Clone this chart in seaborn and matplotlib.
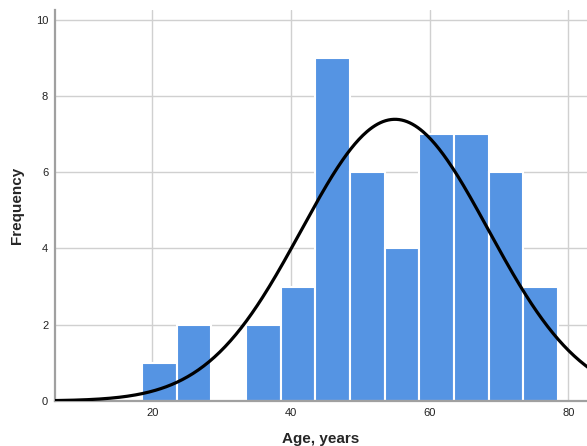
import numpy as np
import pandas as pd
import matplotlib
matplotlib.use("Agg")
import matplotlib.pyplot as plt
import seaborn as sns

# histogram bins (age, years) and counts
bin_edges = [18.5, 23.5, 28.5, 33.5, 38.5, 43.5, 48.5, 53.5, 58.5, 63.5, 68.5, 73.5, 78.5]
counts = [1, 2, 0, 2, 3, 9, 6, 4, 7, 7, 6, 3]

# fitted normal curve parameters
mean_age = 55.0
sd_age = 13.5

sns.set_style("whitegrid")
plt.rcParams["font.family"] = ["Liberation Sans", "DejaVu Sans"]

centers = [(a + b) / 2 for a, b in zip(bin_edges[:-1], bin_edges[1:])]
df = pd.DataFrame({"age": centers, "n": counts})

fig = plt.figure(figsize=(5.87, 4.46), dpi=100)
ax = fig.add_axes([0.094, 0.101, 0.906, 0.877])

sns.histplot(data=df, x="age", weights="n", bins=bin_edges, color="#5594E3",
             edgecolor="white", linewidth=1.5, alpha=1, ax=ax, zorder=2)

n_total = sum(counts)
width = bin_edges[1] - bin_edges[0]
xs = np.linspace(6, 83, 400)
ys = n_total * width / (sd_age * np.sqrt(2 * np.pi)) * np.exp(-0.5 * ((xs - mean_age) / sd_age) ** 2)
sns.lineplot(x=xs, y=ys, color="black", linewidth=2.3, ax=ax, zorder=3)

ax.set_xlim(6, 82.7)
ax.set_ylim(0, 10.26)
ax.set_xticks([20, 40, 60, 80])
ax.set_yticks([0, 2, 4, 6, 8, 10])
ax.tick_params(axis="both", labelsize=8, length=0, pad=5, colors="#222222")
ax.grid(True, color="#d0d0d0", linewidth=1)
ax.set_axisbelow(True)

for side in ["top", "right"]:
    ax.spines[side].set_visible(False)
for side in ["left", "bottom"]:
    ax.spines[side].set_color("#a0a0a0")
    ax.spines[side].set_linewidth(1.6)

ax.set_xlabel("Age, years", fontsize=11, fontweight="bold")
ax.set_ylabel("Frequency", fontsize=11, fontweight="bold")
ax.xaxis.set_label_coords(0.5, -0.079)
ax.yaxis.set_label_coords(-0.058, 0.5)

fig.savefig("out.png", dpi=100)
